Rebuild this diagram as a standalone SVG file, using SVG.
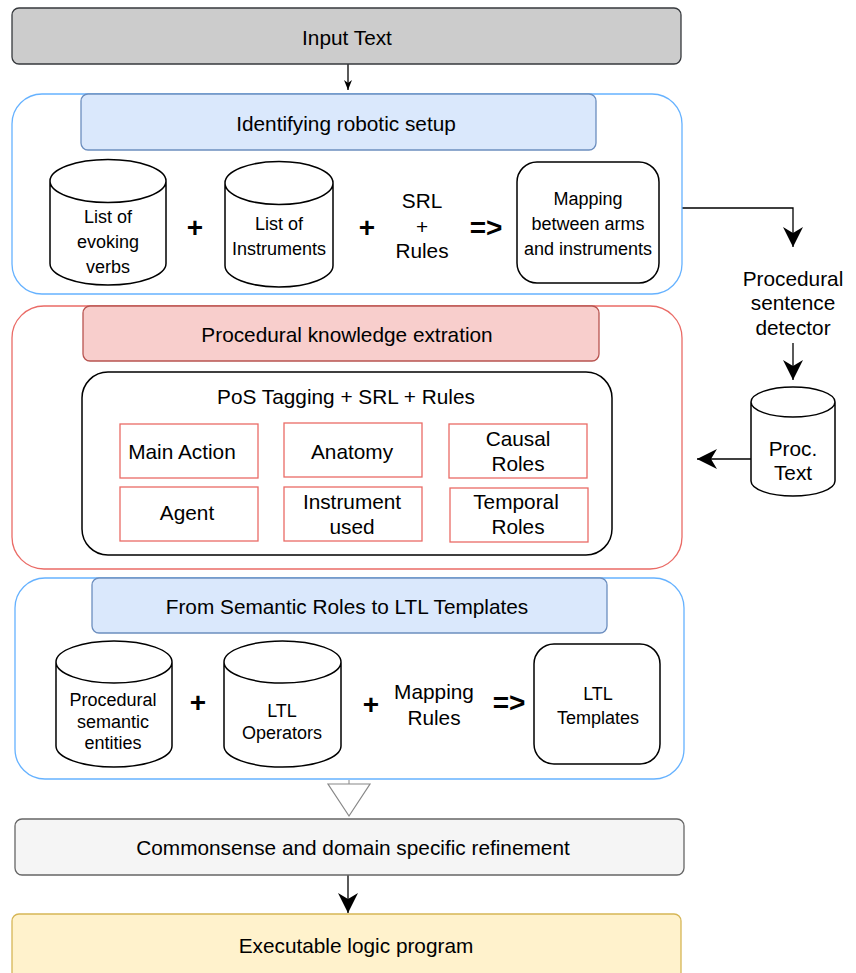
<svg xmlns="http://www.w3.org/2000/svg" width="856" height="973" viewBox="0 0 856 973">
<style>
text{font-family:"Liberation Sans",Arial,sans-serif;fill:#000;text-anchor:middle}
.big{font-size:20.8px}
.sm{font-size:18px}
.op{font-size:28px;font-weight:bold}
.cyl{fill:#fff;stroke:#000;stroke-width:1.5}
.rbox{fill:#fff;stroke:#ea6b66;stroke-width:1.3}
.ln{fill:none;stroke:#000;stroke-width:1.3}
</style>
<defs>
<marker id="classic" markerUnits="userSpaceOnUse" markerWidth="22" markerHeight="22" refX="20" refY="10" orient="auto"><path d="M0,0 L20,10 L0,20 L6,10 Z" fill="#000"/></marker>
<marker id="small" markerUnits="userSpaceOnUse" markerWidth="12" markerHeight="10" refX="10" refY="4" orient="auto"><path d="M0,0 L10,4 L0,8 L3,4 Z" fill="#000"/></marker>
</defs>

<g id="connectors">
<path class="ln" d="M348,64 V90" marker-end="url(#small)"/>
<path class="ln" d="M682,208 H793 V247" marker-end="url(#classic)"/>
<path class="ln" d="M793,343 V380" marker-end="url(#classic)"/>
<path class="ln" d="M751,459 H697" marker-end="url(#classic)"/>
<path d="M349,780 V784" fill="none" stroke="#888" stroke-width="1"/>
<polygon points="328,784 370,784 349,816" fill="#fff" stroke="#888" stroke-width="1.2"/>
<path class="ln" d="M348,875 V913" marker-end="url(#classic)"/>
</g>

<g id="input-text">
<rect x="12" y="8" width="669" height="56" rx="7" fill="#cccccc" stroke="#36393d" stroke-width="1.3"/>
<text class="big" x="347" y="45">Input Text</text>
</g>

<g id="robotic-setup">
<rect x="12" y="94" width="670" height="200" rx="30" fill="#fff" stroke="#66b2ff" stroke-width="1.3"/>
<rect x="81" y="94" width="515" height="56" rx="7" fill="#dae8fc" stroke="#6c8ebf" stroke-width="1.3"/>
<text class="big" x="346" y="131">Identifying robotic setup</text>
</g>

<g id="evoking-verbs">
<path class="cyl" d="M50,181 A58,21.5 0 0 1 166,181 V263.5 A58,21.5 0 0 1 50,263.5 Z M50,181 A58,21.5 0 0 0 166,181"/>
<text class="sm" x="108" y="223">List of</text>
<text class="sm" x="108" y="248">evoking</text>
<text class="sm" x="108" y="273">verbs</text>
</g>
<text class="op" x="195" y="237">+</text>
<g id="instruments">
<path class="cyl" d="M225,183 A54,21.5 0 0 1 333,183 V265.5 A54,21.5 0 0 1 225,265.5 Z M225,183 A54,21.5 0 0 0 333,183"/>
<text class="sm" x="279" y="230">List of</text>
<text class="sm" x="279" y="255">Instruments</text>
</g>
<text class="op" x="367" y="237">+</text>
<g id="srl-rules">
<text class="big" x="422" y="208">SRL</text>
<text class="big" x="422" y="234">+</text>
<text class="big" x="422" y="258">Rules</text>
</g>
<text class="op" x="486" y="237">=&gt;</text>
<g id="mapping-arms">
<rect x="517" y="162" width="142" height="121" rx="20" fill="#fff" stroke="#000" stroke-width="1.5"/>
<text class="sm" x="588" y="205">Mapping</text>
<text class="sm" x="588" y="230">between arms</text>
<text class="sm" x="588" y="255">and instruments</text>
</g>

<g id="procedural-detector">
<text class="big" x="793" y="286">Procedural</text>
<text class="big" x="793" y="310">sentence</text>
<text class="big" x="793" y="335">detector</text>
</g>
<g id="proc-text">
<path class="cyl" d="M751,402 A42,15 0 0 1 835,402 V481 A42,15 0 0 1 751,481 Z M751,402 A42,15 0 0 0 835,402"/>
<text class="big" x="793" y="456">Proc.</text>
<text class="big" x="793" y="480">Text</text>
</g>

<g id="procedural-knowledge">
<rect x="12" y="306" width="670" height="263" rx="32" fill="#fff" stroke="#ea6b66" stroke-width="1.3"/>
<rect x="83" y="306" width="516" height="55" rx="7" fill="#f8cecc" stroke="#b85450" stroke-width="1.3"/>
<text class="big" x="347" y="342">Procedural knowledge extration</text>
</g>
<g id="pos-tagging">
<rect x="82" y="372" width="530" height="183" rx="26" fill="#fff" stroke="#000" stroke-width="1.5"/>
<text class="big" x="346" y="404">PoS Tagging + SRL + Rules</text>
</g>
<g id="main-action"><rect class="rbox" x="120" y="424" width="138" height="54"/><text class="big" x="182" y="459">Main Action</text></g>
<g id="anatomy"><rect class="rbox" x="284" y="423" width="138" height="54"/><text class="big" x="352" y="459">Anatomy</text></g>
<g id="causal-roles"><rect class="rbox" x="449" y="424" width="138" height="54"/><text class="big" x="518" y="446">Causal</text><text class="big" x="518" y="471">Roles</text></g>
<g id="agent"><rect class="rbox" x="120" y="487" width="138" height="54"/><text class="big" x="187" y="520">Agent</text></g>
<g id="instrument-used"><rect class="rbox" x="284" y="487" width="138" height="54"/><text class="big" x="352" y="509">Instrument</text><text class="big" x="352" y="534">used</text></g>
<g id="temporal-roles"><rect class="rbox" x="450" y="488" width="138" height="54"/><text class="big" x="516" y="509">Temporal</text><text class="big" x="518" y="534">Roles</text></g>

<g id="ltl-section">
<rect x="15" y="578" width="669" height="201" rx="30" fill="#fff" stroke="#66b2ff" stroke-width="1.3"/>
<rect x="92" y="578" width="515" height="55" rx="7" fill="#dae8fc" stroke="#6c8ebf" stroke-width="1.3"/>
<text class="big" x="347" y="614">From Semantic Roles to LTL Templates</text>
</g>
<g id="semantic-entities">
<path class="cyl" d="M56,662 A58,21 0 0 1 172,662 V746 A58,21 0 0 1 56,746 Z M56,662 A58,21 0 0 0 172,662"/>
<text class="sm" x="113" y="706">Procedural</text>
<text class="sm" x="113" y="728">semantic</text>
<text class="sm" x="113" y="749">entities</text>
</g>
<text class="op" x="198" y="712">+</text>
<g id="ltl-operators">
<path class="cyl" d="M224,662 A58.5,21 0 0 1 341,662 V746 A58.5,21 0 0 1 224,746 Z M224,662 A58.5,21 0 0 0 341,662"/>
<text class="sm" x="282" y="717">LTL</text>
<text class="sm" x="282" y="739">Operators</text>
</g>
<text class="op" x="371" y="714">+</text>
<g id="mapping-rules">
<text class="big" x="434" y="699">Mapping</text>
<text class="big" x="434" y="725">Rules</text>
</g>
<text class="op" x="509" y="712">=&gt;</text>
<g id="ltl-templates">
<rect x="534" y="644" width="126" height="120" rx="20" fill="#fff" stroke="#000" stroke-width="1.5"/>
<text class="sm" x="598" y="700">LTL</text>
<text class="sm" x="598" y="724">Templates</text>
</g>

<g id="commonsense">
<rect x="15" y="819" width="669" height="56" rx="7" fill="#f5f5f5" stroke="#666666" stroke-width="1.3"/>
<text class="big" x="353" y="855">Commonsense and domain specific refinement</text>
</g>
<g id="executable">
<rect x="12" y="914" width="669" height="70" rx="7" fill="#fff2cc" stroke="#d6b656" stroke-width="1.3"/>
<text class="big" x="356" y="953">Executable logic program</text>
</g>
</svg>
